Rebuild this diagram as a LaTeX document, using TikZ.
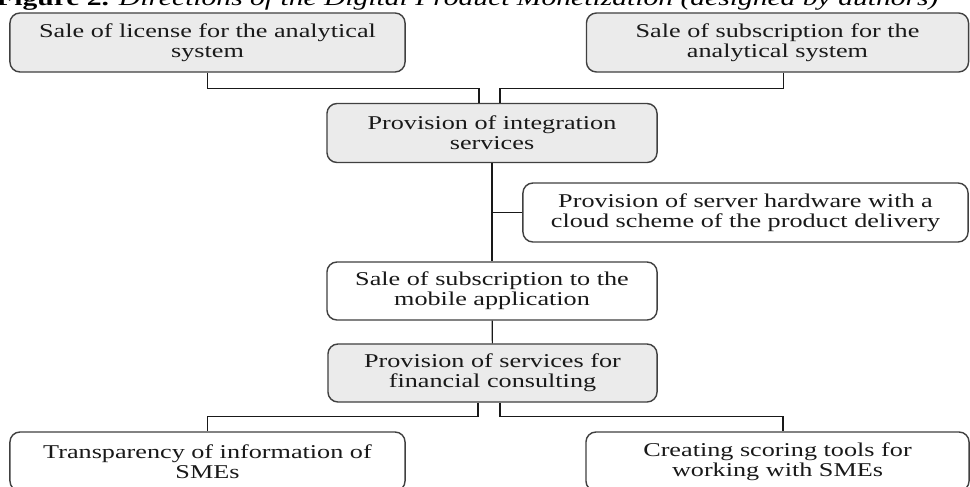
\documentclass[tikz,border=0pt]{standalone}
\usepackage{fontspec}
\setmainfont{Liberation Serif}[FakeStretch=1.34]
\begin{document}
\begin{tikzpicture}
	[x=0.025cm,y=-0.025cm,
	box/.style={draw=black!75,line width=1pt,rounded corners=0.25cm,
		minimum height=1.475cm,inner sep=0pt,align=center,
		font=\fontsize{13.9pt}{14.2pt}\selectfont,text=black!90},
	greybox/.style={box,fill=black!8},
	plainbox/.style={box,fill=white},
	link/.style={line width=0.8pt,black!90}]
	\useasboundingbox (0,0) rectangle (970,486);
	\clip (0,0) rectangle (970,486);
	\node[anchor=base west,inner sep=0pt,font=\fontsize{15.7pt}{16pt}\selectfont] (caption) at (-4,5.5)
		{\textbf{Figure 2.} \textit{Directions of the Digital Product Monetization (designed by authors)}};
	\node[greybox,minimum width=9.875cm] (lic) at (207.5,42.5) {Sale of license for the analytical\\system};
	\node[greybox,minimum width=9.55cm] (sub) at (777.5,42.5) {Sale of subscription for the\\analytical system};
	\node[greybox,minimum width=8.25cm] (integ) at (492,133) {Provision of integration\\services};
	\node[plainbox,minimum width=11.125cm] (cloud) at (745.5,212.5) {Provision of server hardware with a\\cloud scheme of the product delivery};
	\node[plainbox,minimum width=8.25cm,minimum height=1.45cm] (mob) at (492,291) {Sale of subscription to the\\mobile application};
	\node[greybox,minimum width=8.225cm,minimum height=1.45cm] (fin) at (492.5,373) {Provision of services for\\financial consulting};
	\node[plainbox,minimum width=9.875cm] (transp) at (207.5,461.5) {Transparency of information of\\SMEs};
	\node[plainbox,minimum width=9.575cm] (score) at (777.5,461.5) {Creating scoring tools for\\working with SMEs};
	\draw[link] (lic.south) -- ++(0,16) -| ([xshift=-0.325cm]integ.north);
	\draw[link] ([xshift=0.16cm]sub.south) -- ++(0,16) -| ([xshift=0.2cm]integ.north);
	\draw[link] (integ) -- (mob);
	\draw[link] (cloud.west) -- (cloud.west -| integ);
	\draw[link] (mob) -- (fin);
	\draw[link] ([xshift=-0.3625cm]fin.south) -- ++(0,14) -| (transp.north);
	\draw[link] ([xshift=0.1875cm]fin.south) -- ++(0,14) -| ([xshift=0.1375cm]score.north);
\end{tikzpicture}
\end{document}
